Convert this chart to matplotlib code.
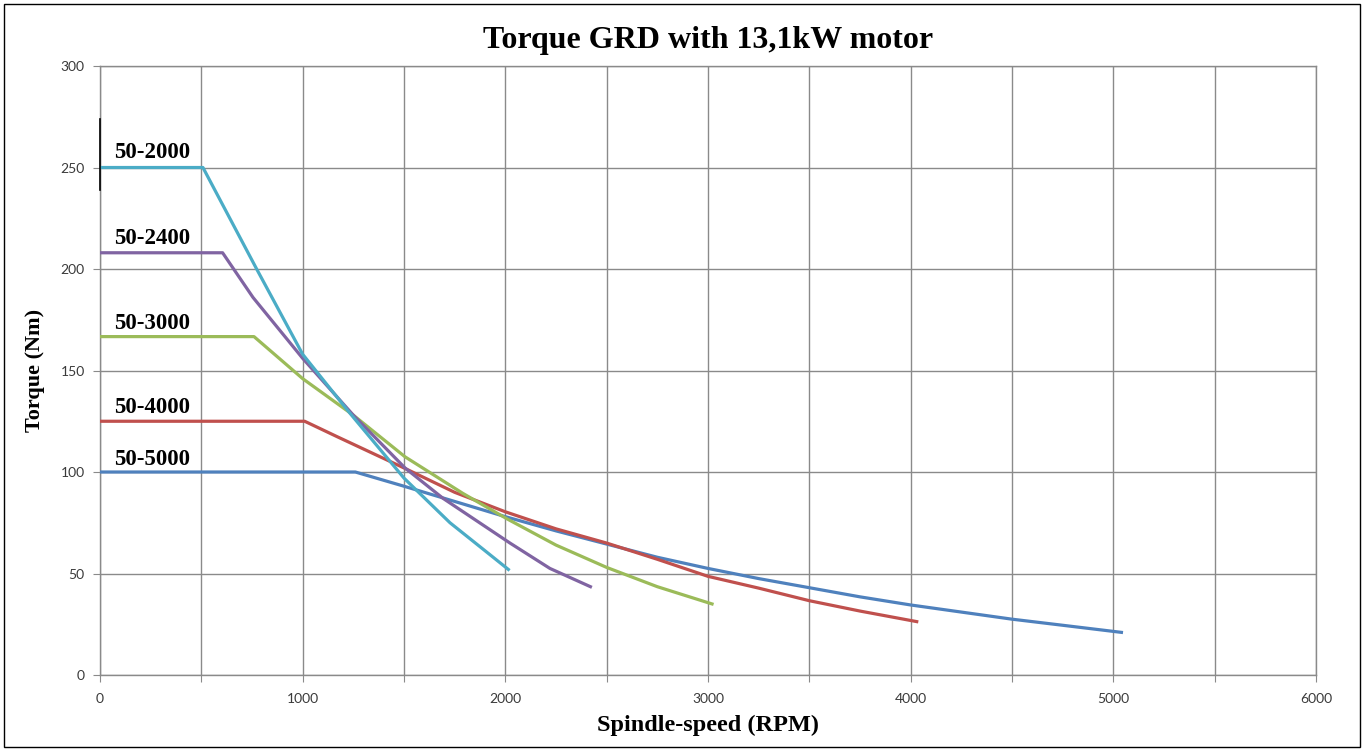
import matplotlib.pyplot as plt
from matplotlib.patches import Rectangle
from matplotlib.ticker import FixedLocator, FuncFormatter

# torque curves (RPM, Nm)
rpm_2000 = [0, 508, 773, 1000, 1233, 1500, 1727, 1890, 2015]
nm_2000 = [250, 250, 200, 158, 129, 97, 75, 62, 52]

rpm_2400 = [0, 605, 755, 1000, 1250, 1505, 1693, 2023, 2220, 2420]
nm_2400 = [208, 208, 186, 156, 128, 102, 87, 65, 52.5, 43.5]

rpm_3000 = [0, 760, 1000, 1250, 1505, 1790, 2007, 2250, 2500, 2750, 3020]
nm_3000 = [166.7, 166.7, 146, 128, 107.5, 89.5, 77, 64, 53, 43.5, 35]

rpm_4000 = [0, 1010, 1168, 1500, 1750, 2000, 2250, 2500, 2750, 3000, 3250,
            3500, 3750, 4030]
nm_4000 = [125, 125, 117.5, 102, 90, 80.4, 72, 65, 57, 48.6, 42.8, 36.6,
           31.5, 26.3]

rpm_5000 = [0, 1260, 1500, 1750, 2000, 2250, 2500, 2750, 3000, 3250, 3500,
            3750, 4000, 4250, 4500, 4750, 5040]
nm_5000 = [100, 100, 93, 85.5, 78, 71, 64.5, 58, 52.5, 47.5, 43, 38.5, 34.5,
           31, 27.5, 24.5, 21]

names = ['50-2000', '50-2400', '50-3000', '50-4000', '50-5000']
label_y = [257.4, 215.1, 173, 131.9, 106.4]

curves = [(rpm_2000, nm_2000, '#4BACC6'),
          (rpm_2400, nm_2400, '#8064A2'),
          (rpm_3000, nm_3000, '#9BBB59'),
          (rpm_4000, nm_4000, '#C0504D'),
          (rpm_5000, nm_5000, '#4F81BD')]

serif = 'Liberation Serif'
grid_col = '#8a8a8a'

fig = plt.figure(figsize=(13.64, 7.51), dpi=100)
ax = fig.add_axes([0.0733, 0.1012, 0.8915, 0.8109])

for x, y, c in curves[::-1]:
    ax.plot(x, y, color=c, lw=2.3, zorder=3)

for name, yy in zip(names, label_y):
    ax.text(68, yy, name, fontsize=16.5, fontweight='bold', family=serif,
            ha='left', va='center', zorder=4)

# stray mark on the left axis in the original
ax.plot([0, 0], [239, 274], color='black', lw=1.2, zorder=4, clip_on=False)

ax.set_xlim(0, 6000)
ax.set_ylim(0, 300)
ax.xaxis.set_major_locator(FixedLocator(range(0, 6001, 500)))
ax.xaxis.set_major_formatter(FuncFormatter(
    lambda v, p: '%d' % v if v % 1000 == 0 else ''))
ax.yaxis.set_major_locator(FixedLocator(range(0, 301, 50)))
ax.grid(True, color=grid_col, lw=1)
ax.set_axisbelow(True)
for s in ax.spines.values():
    s.set_color(grid_col)
    s.set_linewidth(1)
ax.tick_params(axis='both', direction='out', length=5, color=grid_col,
               labelsize=10, labelcolor='#3a3a3a', pad=6)
ax.tick_params(axis='x', pad=8)
for lab in ax.get_xticklabels() + ax.get_yticklabels():
    lab.set_family('Lato')

ax.set_xlabel('Spindle-speed (RPM)', fontsize=17.5, fontweight='bold',
              family=serif, labelpad=7)
ax.set_ylabel('Torque (Nm)', fontsize=16, fontweight='bold',
              family=serif, labelpad=11)
ax.set_title('Torque GRD with 13,1kW motor', fontsize=23, fontweight='bold',
             family=serif, pad=13)

fig.patches.append(Rectangle((0.003, 0.005), 0.994, 0.99, fill=False,
                             edgecolor='black', lw=1,
                             transform=fig.transFigure))

plt.savefig('out.png')
